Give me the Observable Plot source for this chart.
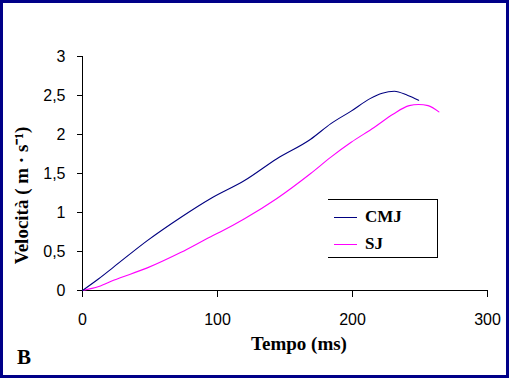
<!DOCTYPE html>
<html><head><meta charset="utf-8">
<script src="https://cdn.jsdelivr.net/npm/d3@7"></script>
<script src="https://cdn.jsdelivr.net/npm/@observablehq/plot@0.6"></script>
<style>
body{margin:0;background:#fff;}
#wrap{position:relative;width:509px;height:380px;overflow:hidden;background:#fff;}
#wrap svg{position:absolute;left:0;top:0;}
#border{position:absolute;left:0;top:0;width:509px;height:378px;box-sizing:border-box;border:3px solid #000088;pointer-events:none;}
#legend{position:absolute;left:328px;top:199px;width:110px;height:59px;box-sizing:border-box;border:1px solid #000;border-left:none;font-family:"Liberation Serif","Times New Roman",serif;font-weight:bold;font-size:17px;}
.item{position:absolute;left:6px;height:20px;display:flex;align-items:center;white-space:nowrap;}
.sw{width:23px;height:0;border-top:1px solid;margin-right:8px;}
#B{position:absolute;left:17px;top:345px;font-family:"Liberation Serif","Times New Roman",serif;font-weight:bold;font-size:21px;line-height:24px;}
</style>
</head><body>
<div id="wrap"></div>
<script>
// Data
const cmjTime = [0, 12, 23, 48, 73, 95, 120, 144, 169, 184, 199, 213, 222, 231, 241, 249];
const cmjVel  = [0, 0.15, 0.30, 0.64, 0.94, 1.18, 1.41, 1.69, 1.94, 2.14, 2.30, 2.46, 2.53, 2.555, 2.50, 2.44];
const sjTime  = [0, 12, 23, 48, 73, 95, 102, 120, 144, 169, 184, 199, 216, 230, 242, 249, 256, 264];
const sjVel   = [0, 0.05, 0.13, 0.29, 0.49, 0.69, 0.75, 0.92, 1.18, 1.50, 1.71, 1.90, 2.09, 2.26, 2.37, 2.385, 2.37, 2.29];
const seriesNames = ["CMJ", "SJ"];
const seriesColors = ["#000080", "#ff00ff"];
const xTicks = [0, 100, 200, 300];
const yTicks = [0, 0.5, 1, 1.5, 2, 2.5, 3];
const xLabel = "Tempo (ms)";
const yLabel = "Velocità ( m · s⁻¹)";
const panelLabel = "B";

const cmj = cmjTime.map((t, i) => ({t, v: cmjVel[i]}));
const sj = sjTime.map((t, i) => ({t, v: sjVel[i]}));
const serif = "'Liberation Serif','Times New Roman',serif";

const chart = Plot.plot({
  width: 509,
  height: 380,
  marginLeft: 82,
  marginRight: 22,
  marginTop: 56,
  marginBottom: 90,
  style: {fontFamily: "'Liberation Sans', Arial, sans-serif", fontSize: "16px", color: "#000", background: "transparent"},
  x: {domain: [0, 300]},
  y: {domain: [0, 3]},
  marks: [
    Plot.axisX({ticks: xTicks, tickSize: 7, tickPadding: 16, label: null, tickFormat: d => String(d), stroke: "#000", fill: "#000", letterSpacing: 1}),
    Plot.axisY({ticks: yTicks, tickSize: 5, tickPadding: 12, label: null, tickFormat: d => String(d).replace(".", ","), stroke: "#000", fill: "#000", letterSpacing: 1}),
    Plot.ruleY([0], {stroke: "#000", strokeWidth: 1}),
    Plot.ruleX([0], {stroke: "#000", strokeWidth: 1}),
    Plot.line(sj, {x: "t", y: "v", stroke: seriesColors[1], strokeWidth: 1.1, curve: "monotone-x"}),
    Plot.line(cmj, {x: "t", y: "v", stroke: seriesColors[0], strokeWidth: 1.1, curve: "monotone-x"}),
    Plot.text([xLabel], {frameAnchor: "bottom", dx: 14, dy: 53, lineAnchor: "middle", fontFamily: serif, fontWeight: "bold", fontSize: 19, fill: "#000"}),
    Plot.text([yLabel], {frameAnchor: "left", dx: -61, dy: 22, rotate: -90, textAnchor: "middle", lineAnchor: "middle", fontFamily: serif, fontWeight: "bold", fontSize: 19, fill: "#000"})
  ]
});

const wrap = document.getElementById("wrap");
wrap.appendChild(chart);

const legend = document.createElement("div");
legend.id = "legend";
seriesNames.forEach((name, i) => {
  const item = document.createElement("div");
  item.className = "item";
  item.style.top = (i === 0 ? 7 : 34) + "px";
  const sw = document.createElement("span");
  sw.className = "sw";
  sw.style.borderTopColor = seriesColors[i];
  const lab = document.createElement("span");
  lab.textContent = name;
  item.appendChild(sw);
  item.appendChild(lab);
  legend.appendChild(item);
});
wrap.appendChild(legend);

const b = document.createElement("div");
b.id = "B";
b.textContent = panelLabel;
wrap.appendChild(b);

const border = document.createElement("div");
border.id = "border";
wrap.appendChild(border);
</script>
</body></html>
